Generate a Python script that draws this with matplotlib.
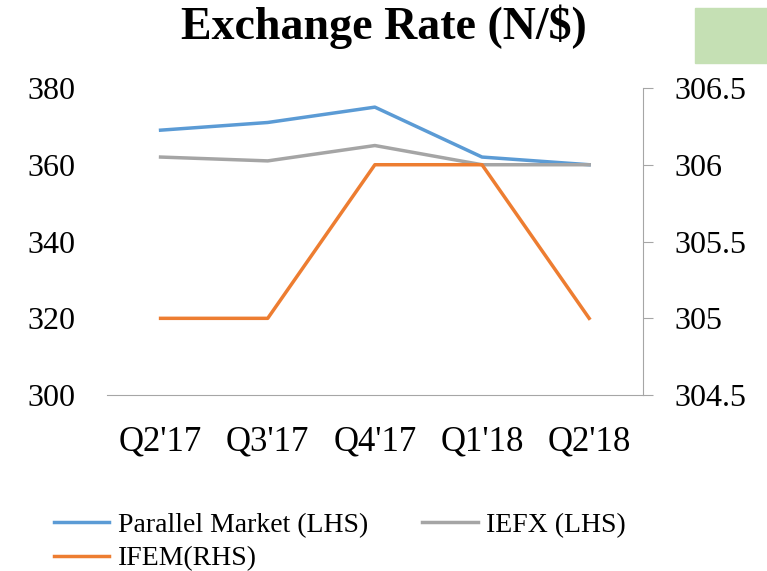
import matplotlib.pyplot as plt
from matplotlib.patches import Rectangle

quarters = ["Q2'17", "Q3'17", "Q4'17", "Q1'18", "Q2'18"]
parallel = [369, 371, 375, 362, 360]
iefx = [362, 361, 365, 360, 360]
ifem = [305, 305, 306, 306, 305]

plt.rcParams['font.family'] = ['Liberation Serif', 'DejaVu Serif']

fig = plt.figure(figsize=(7.67, 5.71), dpi=100)
ax = fig.add_axes([0.1395, 0.308, 0.6985, 0.538])
ax2 = ax.twinx()

x = range(len(quarters))
l1, = ax.plot(x, parallel, color="#5B9BD5", lw=2.5, label="Parallel Market (LHS)")
l2, = ax.plot(x, iefx, color="#A5A5A5", lw=2.5, label="IEFX (LHS)")
l3, = ax2.plot(x, ifem, color="#ED7D31", lw=2.5, label="IFEM(RHS)")

ax.set_xlim(-0.5, 4.5)
ax.set_ylim(300, 380)
ax.set_yticks([300, 320, 340, 360, 380])
ax2.set_ylim(304.5, 306.5)
ax2.set_yticks([304.5, 305, 305.5, 306, 306.5])
ax2.set_yticklabels(["304.5", "305", "305.5", "306", "306.5"])

ax.set_xticks(list(x))
ax.set_xticklabels(quarters)

for a in (ax, ax2):
    for s in ("top", "left", "right"):
        a.spines[s].set_visible(False)
    a.spines["bottom"].set_color("#A6A6A6")
ax2.spines["bottom"].set_visible(False)
ax2.spines["right"].set_visible(True)
ax2.spines["right"].set_color("#A6A6A6")

ax.tick_params(axis="y", length=0, labelsize=23, pad=23)
ax.tick_params(axis="x", length=0, labelsize=25, pad=22)
ax2.tick_params(axis="y", length=7, color="#A6A6A6", labelsize=23, pad=16)

fig.text(0.5, 0.954, "Exchange Rate (N/$)", ha="center", va="center",
         fontsize=33, fontweight="bold")

fig.patches.append(Rectangle((695 / 767, 1 - 63 / 571), 72 / 767, 55 / 571,
                             transform=fig.transFigure, color="#C5E0B4", zorder=0))

fig.legend(handles=[l1, l3, l2], loc="upper left", bbox_to_anchor=(0.052, 0.127),
           ncol=2, frameon=False, fontsize=20, handlelength=2.0, handletextpad=0.3,
           columnspacing=1.95, labelspacing=0.3, borderpad=0)

fig.savefig("out.png", dpi=100)
